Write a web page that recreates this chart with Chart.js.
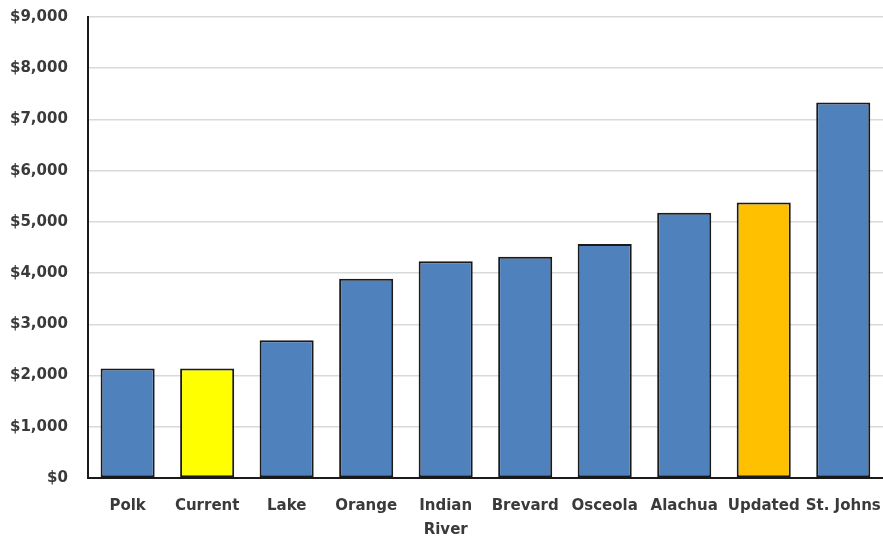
<!DOCTYPE html>
<html>
<head>
<meta charset="utf-8">
<script src="https://cdn.jsdelivr.net/npm/chart.js@4/dist/chart.umd.min.js"></script>
<style>
  html, body { margin: 0; padding: 0; background: #fff; }
  #wrap { width: 883px; height: 537px; }
</style>
</head>
<body>
<div id="wrap"><canvas id="costChart"></canvas></div>
<script>
const counties = ['Polk', 'Current', 'Lake', 'Orange', ['Indian', 'River'], 'Brevard', 'Osceola', 'Alachua', 'Updated', 'St. Johns'];
const costs = [2140, 2140, 2690, 3890, 4230, 4320, 4570, 5180, 5380, 7330];
const barColors = ['#4F81BD', '#FFFF00', '#4F81BD', '#4F81BD', '#4F81BD', '#4F81BD', '#4F81BD', '#4F81BD', '#FFC000', '#4F81BD'];
const yTicks = [0, 1000, 2000, 3000, 4000, 5000, 6000, 7000, 8000, 9000];

const textColor = '#3a3a3a';
const labelFont = { family: 'DejaVu Sans, sans-serif', size: 15, weight: 'bold', lineHeight: 1.6 };

const ctx = document.getElementById('costChart').getContext('2d');

// gaps between labels and axes come from invisible tick marks, so the
// tick padding does not push the plot area in from the top / right
new Chart(ctx, {
  type: 'bar',
  data: {
    labels: counties,
    datasets: [
      {
        data: costs,
        backgroundColor: barColors,
        borderColor: '#1a1a1a',
        borderWidth: 2,
        borderSkipped: false,
        categoryPercentage: 1,
        barPercentage: 0.68,
      },
    ],
  },
  options: {
    responsive: true,
    maintainAspectRatio: false,
    animation: false,
    layout: {
      padding: { top: 17, right: 0, bottom: -5, left: 10 },
    },
    plugins: {
      legend: { display: false },
      tooltip: { enabled: false },
    },
    scales: {
      x: {
        grid: { color: 'transparent', drawOnChartArea: false, drawTicks: true, tickLength: 16, tickColor: 'transparent' },
        border: { display: true, color: '#1a1a1a', width: 2 },
        ticks: {
          color: textColor,
          font: labelFont,
          maxRotation: 0,
          autoSkip: false,
          padding: 0,
        },
      },
      y: {
        min: 0,
        max: 9000,
        afterBuildTicks: function (axis) {
          axis.ticks = yTicks.map(function (v) { return { value: v }; });
        },
        grid: { color: '#d9d9d9', lineWidth: 1.5, drawTicks: true, tickLength: 20, tickColor: 'transparent' },
        border: { display: true, color: '#1a1a1a', width: 2 },
        ticks: {
          color: textColor,
          font: { family: 'DejaVu Sans, sans-serif', size: 15, weight: 'bold' },
          padding: 0,
          callback: function (value) {
            return '$' + value.toLocaleString('en-US');
          },
        },
      },
    },
  },
});
</script>
</body>
</html>
